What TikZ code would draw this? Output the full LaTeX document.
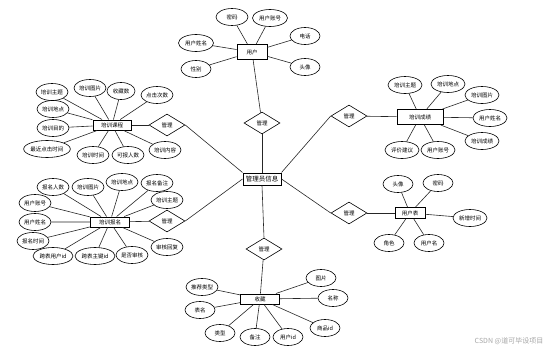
\documentclass[tikz,border=0pt]{standalone}
\usepackage{fontspec}
\newfontfamily\cjk{Noto Sans CJK SC}
\usetikzlibrary{shapes.geometric}

\begin{document}
\begin{tikzpicture}[
    x=1pt, y=-1pt,
    ent/.style={rectangle, draw=black, line width=1pt, minimum height=10pt,
                minimum width=38pt, inner sep=1pt, font=\cjk\fontsize{5.5}{6}\selectfont},
    attr/.style={ellipse, draw=black, line width=0.6pt, minimum width=32pt,
                 minimum height=17pt, inner sep=0pt, font=\cjk\fontsize{5.5}{6}\selectfont},
    rel/.style={diamond, draw=black, line width=0.6pt, minimum width=36pt,
                minimum height=22pt, inner sep=0pt, font=\cjk\fontsize{5.5}{6}\selectfont},
    link/.style={draw=black!85, line width=0.6pt},
]
\useasboundingbox (0,0) rectangle (547,356);

% 实体
\node[ent, minimum width=30pt, minimum height=15pt] (user) at (252,52) {用户};
\node[ent, minimum height=12pt, font=\cjk\fontsize{6.5}{7}\selectfont] (admin) at (262,179) {管理员信息};
\node[ent] (course) at (112,125) {培训课程};
\node[ent, minimum width=46pt, minimum height=15pt] (score) at (420,117) {培训成绩};
\node[ent, minimum width=39pt] (signup) at (110,222) {培训报名};
\node[ent, minimum width=30pt, minimum height=11pt] (account) at (410,213) {用户表};
\node[ent, minimum width=39pt] (fav) at (260,299) {收藏};

% 关系
\node[rel] (mg1) at (262,123) {管理};
\node[rel] (mg2) at (167,125) {管理};
\node[rel] (mg3) at (349,116) {管理};
\node[rel] (mg4) at (167,221) {管理};
\node[rel] (mg5) at (349,213) {管理};
\node[rel] (mg6) at (264,249) {管理};

% 用户属性
\node[attr] (user1) at (232,17) {密码};
\node[attr, minimum width=35pt] (user2) at (270,18) {用户账号};
\node[attr, minimum width=35pt] (user3) at (196,43) {用户姓名};
\node[attr, minimum width=30pt] (user4) at (305,36) {电话};
\node[attr, minimum width=30pt] (user5) at (196,69) {性别};
\node[attr, minimum width=30pt] (user6) at (305,67) {头像};

% 培训课程属性
\node[attr] (course1) at (52,92) {培训主题};
\node[attr] (course2) at (90,88) {培训图片};
\node[attr, minimum width=28pt] (course3) at (121,91) {收藏数};
\node[attr] (course4) at (157,95) {点击次数};
\node[attr] (course5) at (53,109) {培训地点};
\node[attr] (course6) at (53,128) {培训目的};
\node[attr, minimum width=42pt] (course7) at (47,149) {最近点击时间};
\node[attr] (course8) at (93,155) {培训时间};
\node[attr] (course9) at (128,155) {可报人数};
\node[attr] (course10) at (165,150) {培训内容};

% 培训成绩属性
\node[attr, minimum width=34pt] (score1) at (405,85) {培训主题};
\node[attr, minimum width=34pt] (score2) at (448,84) {培训地点};
\node[attr, minimum width=34pt] (score3) at (482,95) {培训图片};
\node[attr, minimum width=34pt] (score4) at (490,118) {用户姓名};
\node[attr, minimum width=34pt] (score5) at (482,141) {培训成绩};
\node[attr, minimum width=34pt] (score6) at (402,150) {评价建议};
\node[attr, minimum width=34pt] (score7) at (438,150) {用户账号};

% 培训报名属性
\node[attr] (signup1) at (53,187) {报名人数};
\node[attr] (signup2) at (88,187) {培训图片};
\node[attr] (signup3) at (122,182) {培训地点};
\node[attr] (signup4) at (157,183) {报名备注};
\node[attr] (signup5) at (167,200) {培训主题};
\node[attr] (signup6) at (35,203) {用户账号};
\node[attr] (signup7) at (35,222) {用户姓名};
\node[attr] (signup8) at (33,241) {报名时间};
\node[attr, minimum width=40pt] (signup9) at (53,256) {跨表用户id};
\node[attr, minimum width=40pt] (signup10) at (95,256) {跨表主键id};
\node[attr] (signup11) at (132,255) {是否审核};
\node[attr] (signup12) at (167,247) {审核回复};

% 用户表属性
\node[attr, minimum width=30pt] (account1) at (398,184) {头像};
\node[attr, minimum width=30pt] (account2) at (438,183) {密码};
\node[attr, minimum width=34pt] (account3) at (470,218) {新增时间};
\node[attr, minimum width=30pt] (account4) at (389,243) {角色};
\node[attr, minimum width=30pt] (account5) at (429,243) {用户名};

% 收藏属性
\node[attr] (fav1) at (202,287) {推荐类型};
\node[attr, minimum width=30pt] (fav2) at (200,310) {表名};
\node[attr, minimum width=30pt] (fav3) at (220,333) {类型};
\node[attr, minimum width=30pt] (fav4) at (255,337) {备注};
\node[attr, minimum width=30pt] (fav5) at (288,337) {用户id};
\node[attr, minimum width=30pt] (fav6) at (321,278) {图片};
\node[attr, minimum width=30pt] (fav7) at (333,298) {名称};
\node[attr, minimum width=30pt] (fav8) at (325,328) {商品id};

% 管理员与关系
\draw[link] (admin.north) -- (mg1.south);
\draw[link] (admin.north west) -- (mg2.east);
\draw[link] (admin.north east) -- (mg3.west);
\draw[link] (admin.west) -- (mg4.east);
\draw[link] (admin.east) -- (mg5.west);
\draw[link] (admin.south) -- (mg6.north);

% 关系与实体
\draw[link] (mg1) -- (user);
\draw[link] (mg2) -- (course);
\draw[link] (mg3) -- (score);
\draw[link] (mg4) -- (signup);
\draw[link] (mg5) -- (account);
\draw[link] (mg6) -- (fav);

% 属性连线
\draw[link] (user) -- (user1) (user) -- (user2) (user) -- (user3)
            (user) -- (user4) (user) -- (user5) (user) -- (user6);
\draw[link] (course) -- (course1) (course) -- (course2) (course) -- (course3)
            (course) -- (course4) (course) -- (course5) (course) -- (course6)
            (course) -- (course7) (course) -- (course8) (course) -- (course9)
            (course) -- (course10);
\draw[link] (score) -- (score1) (score) -- (score2) (score) -- (score3)
            (score) -- (score4) (score) -- (score5) (score) -- (score6)
            (score) -- (score7);
\draw[link] (signup) -- (signup1) (signup) -- (signup2) (signup) -- (signup3)
            (signup) -- (signup4) (signup) -- (signup5) (signup) -- (signup6)
            (signup) -- (signup7) (signup) -- (signup8) (signup) -- (signup9)
            (signup) -- (signup10) (signup) -- (signup11) (signup) -- (signup12);
\draw[link] (account) -- (account1) (account) -- (account2) (account) -- (account3)
            (account) -- (account4) (account) -- (account5);
\draw[link] (fav) -- (fav1) (fav) -- (fav2) (fav) -- (fav3) (fav) -- (fav4)
            (fav) -- (fav5) (fav) -- (fav6) (fav) -- (fav7) (fav) -- (fav8);

% 水印
\node[font=\cjk\fontsize{7}{8}\selectfont, text=black!35] (mark) at (509,341) {CSDN @道可毕设项目};
\end{tikzpicture}
\end{document}
